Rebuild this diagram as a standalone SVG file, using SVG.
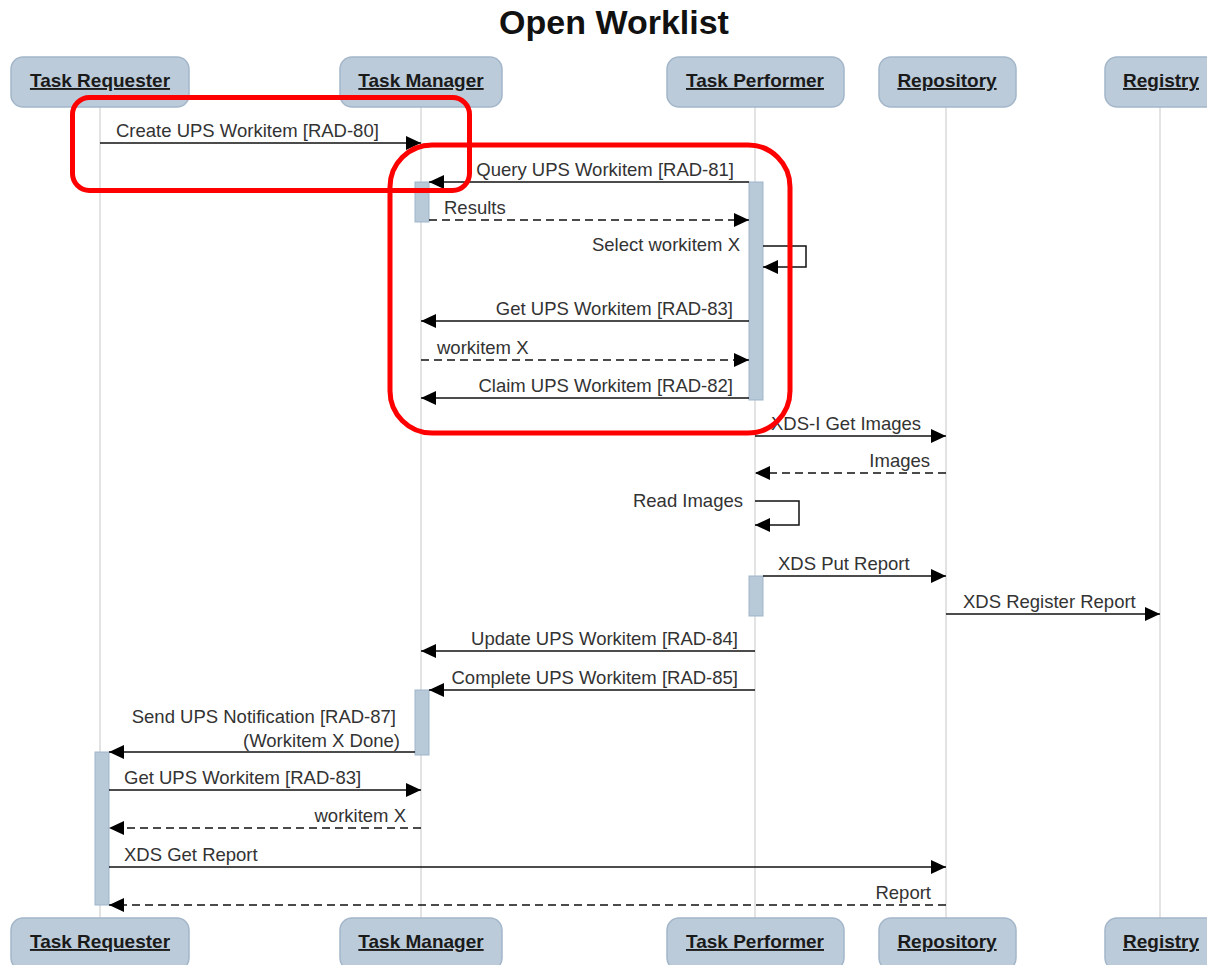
<svg xmlns="http://www.w3.org/2000/svg" width="1207" height="965" viewBox="0 0 1207 965">
<defs>
<style>
.hdr{fill:#bccbd9;stroke:#a3b6ca;stroke-width:1.5}
.hdrt{font-family:"Liberation Sans",Arial,sans-serif;font-size:19px;font-weight:bold;fill:#1a1a1a;text-anchor:middle;text-decoration:underline}
.life{stroke:#d0d0d0;stroke-width:1.2}
.act{fill:#b8c9d8;stroke:#9fb5cc;stroke-width:1}
.msg{stroke:#111;stroke-width:1.5;fill:none;marker-end:url(#ah)}
.dash{stroke-dasharray:8,5}
.lbl{font-family:"Liberation Sans",Arial,sans-serif;font-size:18.5px;fill:#333}
.end{text-anchor:end}
.red{fill:none;stroke:#f00;stroke-width:5}
</style>
<marker id="ah" markerUnits="userSpaceOnUse" markerWidth="16" markerHeight="16" refX="15" refY="7" orient="auto">
<path d="M0,0 L15,7 L0,14 z" fill="#000"/>
</marker>
</defs>
<rect width="1207" height="965" fill="#fff"/>
<text x="614" y="34" font-family="'Liberation Sans',Arial,sans-serif" font-size="34" font-weight="bold" text-anchor="middle" fill="#111">Open Worklist</text>

<g id="lifelines">
<line class="life" x1="100" y1="107" x2="100" y2="918"/>
<line class="life" x1="421" y1="107" x2="421" y2="918"/>
<line class="life" x1="755" y1="107" x2="755" y2="918"/>
<line class="life" x1="946" y1="107" x2="946" y2="918"/>
<line class="life" x1="1160" y1="107" x2="1160" y2="918"/>
</g>

<g id="node-task-requester">
<rect class="hdr" x="11" y="57" width="178" height="50" rx="12"/>
<text class="hdrt" x="100" y="87">Task Requester</text>
<rect class="hdr" x="11" y="918" width="178" height="52" rx="12"/>
<text class="hdrt" x="100" y="948">Task Requester</text>
</g>
<g id="node-task-manager">
<rect class="hdr" x="340" y="57" width="162" height="50" rx="12"/>
<text class="hdrt" x="421" y="87">Task Manager</text>
<rect class="hdr" x="340" y="918" width="162" height="52" rx="12"/>
<text class="hdrt" x="421" y="948">Task Manager</text>
</g>
<g id="node-task-performer">
<rect class="hdr" x="667" y="57" width="177" height="50" rx="12"/>
<text class="hdrt" x="755" y="87">Task Performer</text>
<rect class="hdr" x="667" y="918" width="177" height="52" rx="12"/>
<text class="hdrt" x="755" y="948">Task Performer</text>
</g>
<g id="node-repository">
<rect class="hdr" x="879" y="57" width="137" height="50" rx="12"/>
<text class="hdrt" x="947" y="87">Repository</text>
<rect class="hdr" x="879" y="918" width="137" height="52" rx="12"/>
<text class="hdrt" x="947" y="948">Repository</text>
</g>
<g id="node-registry">
<rect class="hdr" x="1105" y="57" width="114" height="50" rx="12"/>
<text class="hdrt" x="1161" y="87">Registry</text>
<rect class="hdr" x="1105" y="918" width="114" height="52" rx="12"/>
<text class="hdrt" x="1161" y="948">Registry</text>
</g>

<g id="activations">
<rect class="act" x="415" y="182" width="14" height="40"/>
<rect class="act" x="749" y="182" width="14" height="218"/>
<rect class="act" x="749" y="576" width="14" height="40"/>
<rect class="act" x="415" y="690" width="14" height="65"/>
<rect class="act" x="95" y="752" width="14" height="153"/>
</g>

<g id="connectors">
<line class="msg" x1="100" y1="143" x2="421" y2="143"/>
<text class="lbl" x="116" y="137">Create UPS Workitem [RAD-80]</text>

<line class="msg" x1="749" y1="182" x2="429" y2="182"/>
<text class="lbl end" x="734" y="176">Query UPS Workitem [RAD-81]</text>

<line class="msg dash" x1="429" y1="220" x2="749" y2="220"/>
<text class="lbl" x="444" y="214">Results</text>

<path class="msg" d="M763,246 H806 V267 H763"/>
<text class="lbl end" x="740" y="251">Select workitem X</text>

<line class="msg" x1="749" y1="321" x2="421" y2="321"/>
<text class="lbl end" x="733" y="315">Get UPS Workitem [RAD-83]</text>

<line class="msg dash" x1="421" y1="360" x2="749" y2="360"/>
<text class="lbl" x="437" y="354">workitem X</text>

<line class="msg" x1="749" y1="398" x2="421" y2="398"/>
<text class="lbl end" x="733" y="392">Claim UPS Workitem [RAD-82]</text>

<line class="msg" x1="755" y1="436" x2="946" y2="436"/>
<text class="lbl" x="771" y="430">XDS-I Get Images</text>

<line class="msg dash" x1="946" y1="473" x2="755" y2="473"/>
<text class="lbl end" x="930" y="467">Images</text>

<path class="msg" d="M755,501 H799 V525 H755"/>
<text class="lbl end" x="743" y="507">Read Images</text>

<line class="msg" x1="763" y1="576" x2="946" y2="576"/>
<text class="lbl" x="778" y="570">XDS Put Report</text>

<line class="msg" x1="946" y1="614" x2="1160" y2="614"/>
<text class="lbl" x="963" y="608">XDS Register Report</text>

<line class="msg" x1="755" y1="651" x2="421" y2="651"/>
<text class="lbl end" x="738" y="645">Update UPS Workitem [RAD-84]</text>

<line class="msg" x1="755" y1="690" x2="429" y2="690"/>
<text class="lbl end" x="738" y="684">Complete UPS Workitem [RAD-85]</text>

<line class="msg" x1="415" y1="752" x2="109" y2="752"/>
<text class="lbl end" x="396" y="723">Send UPS Notification [RAD-87]</text>
<text class="lbl end" x="400" y="747">(Workitem X Done)</text>

<line class="msg" x1="109" y1="790" x2="421" y2="790"/>
<text class="lbl" x="124" y="784">Get UPS Workitem [RAD-83]</text>

<line class="msg dash" x1="421" y1="828" x2="109" y2="828"/>
<text class="lbl end" x="406" y="822">workitem X</text>

<line class="msg" x1="109" y1="867" x2="946" y2="867"/>
<text class="lbl" x="124" y="861">XDS Get Report</text>

<line class="msg dash" x1="946" y1="905" x2="109" y2="905"/>
<text class="lbl end" x="931" y="899">Report</text>
</g>

<g id="annotations">
<rect class="red" x="72.500" y="97.500" width="397" height="93" rx="17"/>
<rect class="red" x="390" y="145" width="400" height="288" rx="42"/>
</g>
</svg>
